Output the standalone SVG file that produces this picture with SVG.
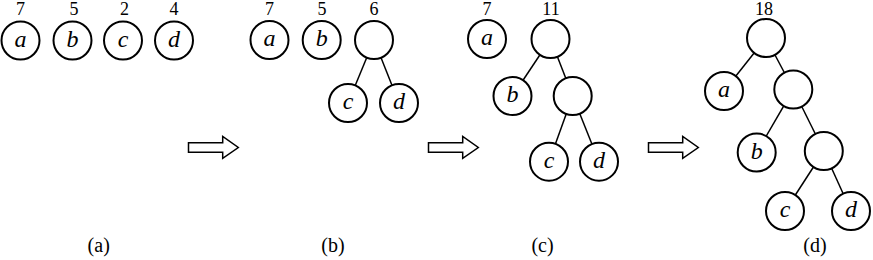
<svg xmlns="http://www.w3.org/2000/svg" xmlns:xlink="http://www.w3.org/1999/xlink" width="873" height="260" viewBox="0 0 873 260" font-family="'Liberation Serif', 'DejaVu Serif', serif">
<style>
text{font-family:'Liberation Serif','DejaVu Serif',serif;fill:#000;text-anchor:middle}
.n circle{fill:#fff;stroke:#000;stroke-width:2}
.lt{font-style:italic;font-size:24px}
.w{font-size:18px}
.cap{font-size:20px}
#edges line{stroke:#000;stroke-width:1.5}
.arr{fill:#fff;stroke:#000;stroke-width:1.5;stroke-linejoin:miter}
</style>
<defs>
<path id="arrow" class="arr" d="M188.5,142.7 H222.7 V136.5 L238.3,147.5 L222.7,158.3 V152.3 H188.5 Z"/>
</defs>
<rect width="873" height="260" fill="#fff"/>

<g id="edges">
<line x1="374" y1="40" x2="348" y2="103"/>
<line x1="374" y1="40" x2="399" y2="103"/>
<line x1="550.5" y1="39" x2="512.5" y2="96"/>
<line x1="550.5" y1="39" x2="572.7" y2="96"/>
<line x1="572.7" y1="96" x2="549" y2="161.7"/>
<line x1="572.7" y1="96" x2="599" y2="161.7"/>
<line x1="766" y1="38" x2="724" y2="91"/>
<line x1="766" y1="38" x2="793.3" y2="89.5"/>
<line x1="793.3" y1="89.5" x2="756.7" y2="152.5"/>
<line x1="793.3" y1="89.5" x2="823.8" y2="151"/>
<line x1="823.8" y1="151" x2="785" y2="211"/>
<line x1="823.8" y1="151" x2="851" y2="211"/>
</g>

<g id="panel-a">
<g id="a1" class="n"><circle cx="20.5" cy="40.5" r="19"/><text class="lt" x="20.5" y="46.5">a</text><text class="w" x="20.5" y="14.5">7</text></g>
<g id="b1" class="n"><circle cx="72.5" cy="40.5" r="19"/><text class="lt" x="72.5" y="46.5">b</text><text class="w" x="74" y="14.5">5</text></g>
<g id="c1" class="n"><circle cx="123" cy="40.5" r="19"/><text class="lt" x="123" y="46.5">c</text><text class="w" x="124.5" y="14.5">2</text></g>
<g id="d1" class="n"><circle cx="174" cy="40.5" r="19"/><text class="lt" x="174" y="46.5">d</text><text class="w" x="174" y="14.5">4</text></g>
</g>

<g id="panel-b">
<g id="a2" class="n"><circle cx="269.5" cy="40" r="19"/><text class="lt" x="269.5" y="46">a</text><text class="w" x="269.5" y="14.5">7</text></g>
<g id="b2" class="n"><circle cx="321.7" cy="40" r="19"/><text class="lt" x="321.7" y="46">b</text><text class="w" x="322" y="14.5">5</text></g>
<g id="r2" class="n"><circle cx="374" cy="40" r="19"/><text class="w" x="374" y="14.5">6</text></g>
<g id="c2" class="n"><circle cx="348" cy="103" r="19"/><text class="lt" x="348" y="109">c</text></g>
<g id="d2" class="n"><circle cx="399" cy="103" r="19"/><text class="lt" x="399" y="109">d</text></g>
</g>

<g id="panel-c">
<g id="a3" class="n"><circle cx="487" cy="39" r="19"/><text class="lt" x="487" y="45">a</text><text class="w" x="487" y="14.5">7</text></g>
<g id="r3" class="n"><circle cx="550.5" cy="39" r="19"/><text class="w" x="551" y="14.5">11</text></g>
<g id="b3" class="n"><circle cx="512.5" cy="96" r="19"/><text class="lt" x="512.5" y="102">b</text></g>
<g id="i3" class="n"><circle cx="572.7" cy="96" r="19"/></g>
<g id="c3" class="n"><circle cx="549" cy="161.7" r="19"/><text class="lt" x="549" y="167.7">c</text></g>
<g id="d3" class="n"><circle cx="599" cy="161.7" r="19"/><text class="lt" x="599" y="167.7">d</text></g>
</g>

<g id="panel-d">
<g id="r4" class="n"><circle cx="766" cy="38" r="19"/><text class="w" x="764" y="14.5">18</text></g>
<g id="a4" class="n"><circle cx="724" cy="91" r="19"/><text class="lt" x="724" y="97">a</text></g>
<g id="i4" class="n"><circle cx="793.3" cy="89.5" r="19"/></g>
<g id="b4" class="n"><circle cx="756.7" cy="152.5" r="19"/><text class="lt" x="756.7" y="158.5">b</text></g>
<g id="j4" class="n"><circle cx="823.8" cy="151" r="19"/></g>
<g id="c4" class="n"><circle cx="785" cy="211" r="19"/><text class="lt" x="785" y="217">c</text></g>
<g id="d4" class="n"><circle cx="851" cy="211" r="19"/><text class="lt" x="851" y="217">d</text></g>
</g>

<g id="arrows">
<use xlink:href="#arrow"/>
<use xlink:href="#arrow" transform="translate(240,0)"/>
<use xlink:href="#arrow" transform="translate(460,0)"/>
</g>

<g id="captions">
<text class="cap" x="98.7" y="252">(a)</text>
<text class="cap" x="333" y="252">(b)</text>
<text class="cap" x="542.5" y="252">(c)</text>
<text class="cap" x="815" y="252">(d)</text>
</g>
</svg>
